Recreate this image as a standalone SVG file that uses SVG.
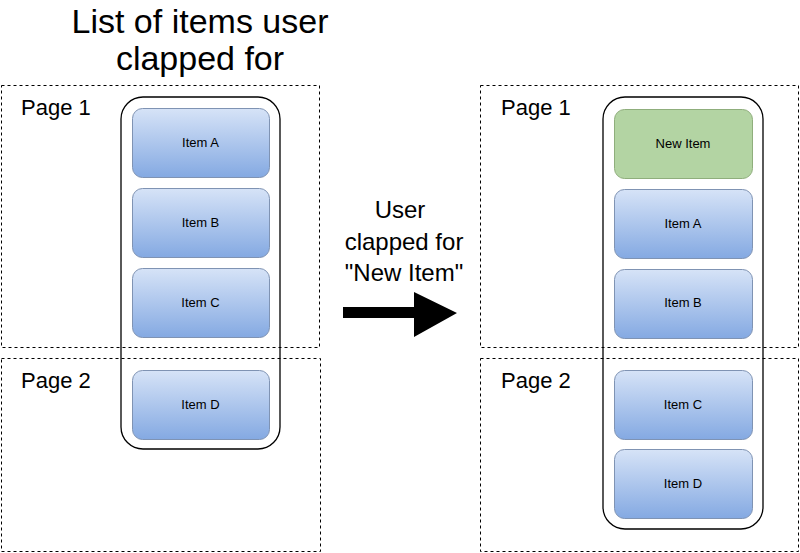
<svg xmlns="http://www.w3.org/2000/svg" width="800" height="553" viewBox="0 0 800 553">
<defs>
<linearGradient id="blue" x1="0" y1="0" x2="0" y2="1">
<stop offset="0" stop-color="#d6e3f7"/>
<stop offset="1" stop-color="#84a9e2"/>
</linearGradient>
<style>
.page{fill:none;stroke:#000;stroke-width:1;stroke-dasharray:3 3}
.list{fill:none;stroke:#000;stroke-width:1.3}
.item{fill:url(#blue);stroke:#7f93b3;stroke-width:1}
.new{fill:#b3d4a3;stroke:#8fae7c;stroke-width:1}
.lbl{font-family:"Liberation Sans",Arial,sans-serif;font-size:13px;fill:#000;text-anchor:middle}
.pg{font-family:"Liberation Sans",Arial,sans-serif;font-size:22px;fill:#000}
.big{font-family:"Liberation Sans",Arial,sans-serif;fill:#000;text-anchor:middle}
</style>
</defs>
<rect width="800" height="553" fill="#fff"/>

<g id="title"><text class="big" font-size="34" x="200" y="33">List of items user</text><text class="big" font-size="34" x="200" y="70">clapped for</text></g>

<g id="left-page1"><rect class="page" x="1.5" y="85.5" width="318" height="262"/><text class="pg" x="21" y="115">Page 1</text></g>
<g id="left-page2"><rect class="page" x="1.5" y="358.5" width="319" height="193"/><text class="pg" x="21" y="388">Page 2</text></g>
<g id="left-list"><rect class="list" x="121" y="97" width="159" height="352" rx="22"/></g>
<g id="left-itemA"><rect class="item" x="132.5" y="108.5" width="137" height="69" rx="10"/><text class="lbl" x="200.5" y="147">Item A</text></g>
<g id="left-itemB"><rect class="item" x="132.5" y="188.5" width="137" height="69" rx="10"/><text class="lbl" x="200.5" y="227">Item B</text></g>
<g id="left-itemC"><rect class="item" x="132.5" y="268.5" width="137" height="69" rx="10"/><text class="lbl" x="200.5" y="307">Item C</text></g>
<g id="left-itemD"><rect class="item" x="132.5" y="370.5" width="137" height="69" rx="10"/><text class="lbl" x="200.5" y="409">Item D</text></g>

<g id="caption"><text class="big" font-size="24" x="400" y="218">User</text><text class="big" font-size="24" x="404" y="250">clapped for</text><text class="big" font-size="24" x="404" y="281">"New Item"</text></g>

<g id="connectors"><path d="M343 307 L414 307 L414 292 L457 313 L414 337 L414 318 L343 318 Z" fill="#000"/></g>

<g id="right-page1"><rect class="page" x="480.5" y="85.5" width="318" height="262"/><text class="pg" x="501" y="115">Page 1</text></g>
<g id="right-page2"><rect class="page" x="480.5" y="358.5" width="318" height="193"/><text class="pg" x="501" y="388">Page 2</text></g>
<g id="right-list"><rect class="list" x="603" y="97" width="160" height="432" rx="22"/></g>
<g id="right-new"><rect class="new" x="614.5" y="109.5" width="138" height="69" rx="10"/><text class="lbl" x="683" y="148">New Item</text></g>
<g id="right-itemA"><rect class="item" x="614.5" y="189.5" width="138" height="69" rx="10"/><text class="lbl" x="683" y="228">Item A</text></g>
<g id="right-itemB"><rect class="item" x="614.5" y="269.5" width="138" height="69" rx="10"/><text class="lbl" x="683" y="307">Item B</text></g>
<g id="right-itemC"><rect class="item" x="614.5" y="370.5" width="138" height="69" rx="10"/><text class="lbl" x="683" y="409">Item C</text></g>
<g id="right-itemD"><rect class="item" x="614.5" y="449.5" width="138" height="69" rx="10"/><text class="lbl" x="683" y="488">Item D</text></g>
</svg>
